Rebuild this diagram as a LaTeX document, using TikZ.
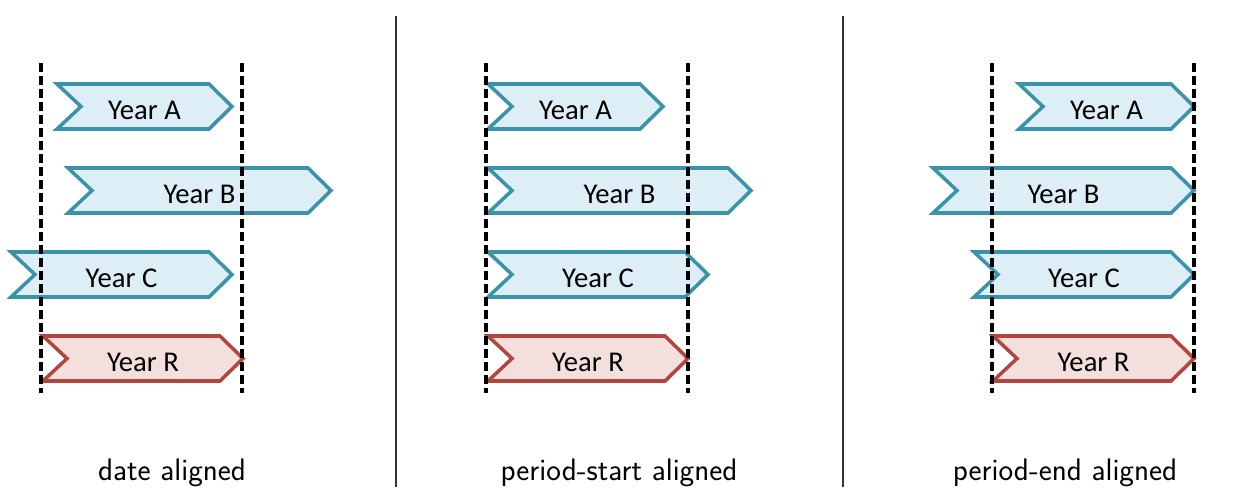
\documentclass[tikz,border=0pt]{standalone}
\usepackage{fontspec}
\newfontfamily\carlito{Carlito}
\usetikzlibrary{shadows}
\definecolor{bstroke}{HTML}{3B93A9}
\definecolor{bfill}{HTML}{DEEEF6}
\definecolor{rstroke}{HTML}{B0463D}
\definecolor{rfill}{HTML}{F3DFDC}
\tikzset{
  bluechev/.style={draw=bstroke, fill=bfill, line width=2pt, drop shadow={opacity=0.2, shadow xshift=0.8pt, shadow yshift=-0.8pt}},
  redchev/.style={draw=rstroke, fill=rfill, line width=2pt, drop shadow={opacity=0.2, shadow xshift=0.8pt, shadow yshift=-0.8pt}},
  yearlbl/.style={font=\carlito\fontsize{16.3}{19}\selectfont, inner sep=0pt},
  guide/.style={line width=2.2pt, dash pattern=on 5pt off 2.4pt},
  sep/.style={line width=0.6pt, draw=black!80},
  caption/.style={font=\sffamily\fontsize{17.7}{21}\selectfont, anchor=base, inner sep=0pt}
}
% #1 name, #2 left x, #3 tip x, #4 top y, #5 style, #6 text
\newcommand\chevron[6]{%
  \path[#5] (#2,#4) -- ({#3-23},#4) -- (#3,{#4+22.5}) -- ({#3-23},{#4+45}) -- (#2,{#4+45}) -- ({#2+24},{#4+22.5}) -- cycle;
  \node[yearlbl] (#1) at ({(#2+#3)/2},{#4+26}) {#6};}
\begin{document}
\begin{tikzpicture}[x=0.02cm, y=-0.02cm]
\useasboundingbox (0,0) rectangle (1254,487);
% separators
\coordinate (s1t) at (396,16); \coordinate (s1b) at (396,487);
\coordinate (s2t) at (843,16); \coordinate (s2b) at (843,487);
\draw[sep] (s1t) -- (s1b);
\draw[sep] (s2t) -- (s2b);
% panel 1: date aligned
\chevron{a1}{57}{232}{84}{bluechev}{Year A}
\chevron{b1}{68}{331}{168}{bluechev}{Year B}
\chevron{c1}{11}{232}{252}{bluechev}{Year C}
\chevron{r1}{43}{243}{336}{redchev}{Year R}
% panel 2: period-start aligned
\chevron{a2}{488}{663}{84}{bluechev}{Year A}
\chevron{b2}{488}{751}{168}{bluechev}{Year B}
\chevron{c2}{488}{708}{252}{bluechev}{Year C}
\chevron{r2}{488}{688}{336}{redchev}{Year R}
% panel 3: period-end aligned
\chevron{a3}{1019}{1194}{84}{bluechev}{Year A}
\chevron{b3}{933}{1194}{168}{bluechev}{Year B}
\chevron{c3}{974}{1194}{252}{bluechev}{Year C}
\chevron{r3}{993}{1194}{336}{redchev}{Year R}
% guides
\foreach \gx [count=\i] in {41,242,486,688,992,1194}{
  \coordinate (gt\i) at (\gx,63);
  \coordinate (gb\i) at (\gx,393);
  \draw[guide] (gt\i) -- (gb\i);
}
% captions
\node[caption] (cap1) at (172,480) {date aligned};
\node[caption] (cap2) at (619,480) {period-start aligned};
\node[caption] (cap3) at (1065,480) {period-end aligned};
\end{tikzpicture}
\end{document}
